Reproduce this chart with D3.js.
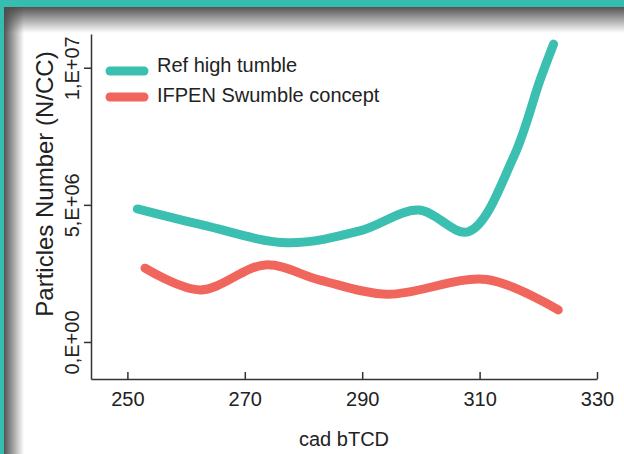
<!DOCTYPE html>
<html>
<head>
<meta charset="utf-8">
<script src="https://cdn.jsdelivr.net/npm/d3@7"></script>
<style>
  html, body { margin: 0; padding: 0; background: #fff; }
  svg { display: block; font-family: "Liberation Sans", Arial, Helvetica, sans-serif; }
</style>
</head>
<body>
<svg></svg>
<script>
// Set up the page.
var width = 624,
    height = 454;

var svg = d3.select("svg")
    .attr("width", width)
    .attr("height", height);

// Data (particles per cc, by crank angle bTCD).
var cadRef   = [251.7, 262.9, 277.2, 289.6, 299.6, 308.1, 315.8, 320.3, 322.6];
var refHigh  = [4.85e6, 4.26e6, 3.62e6, 4.05e6, 4.81e6, 4.02e6, 6.75e6, 9.55e6, 10.86e6];
var cadIfpen = [253.0, 262.4, 273.5, 282.8, 294.2, 311.2, 323.4];
var ifpen    = [2.69e6, 1.90e6, 2.81e6, 2.26e6, 1.74e6, 2.28e6, 1.17e6];

var xTicks = [250, 270, 290, 310, 330];
var yTicks = [0, 5e6, 1e7];
var yTickLabels = ["0,E+00", "5,E+06", "1,E+07"];
var seriesNames = ["Ref high tumble", "IFPEN Swumble concept"];
var colors = ["#3bbfb0", "#f1665c"];

// Frame: teal border with a soft grey shadow on top and left.
var defs = svg.append("defs");
var gTop = defs.append("linearGradient").attr("id", "shTop")
    .attr("x1", 0).attr("y1", 0).attr("x2", 0).attr("y2", 1);
gTop.append("stop").attr("offset", 0).attr("stop-color", "#4a4a4a").attr("stop-opacity", 0.95);
gTop.append("stop").attr("offset", 1).attr("stop-color", "#4a4a4a").attr("stop-opacity", 0);
var gLeft = defs.append("linearGradient").attr("id", "shLeft")
    .attr("x1", 0).attr("y1", 0).attr("x2", 1).attr("y2", 0);
gLeft.append("stop").attr("offset", 0).attr("stop-color", "#4a4a4a").attr("stop-opacity", 0.95);
gLeft.append("stop").attr("offset", 1).attr("stop-color", "#4a4a4a").attr("stop-opacity", 0);

svg.append("rect").attr("x", 4).attr("y", 7).attr("width", width - 4).attr("height", 26)
    .attr("fill", "url(#shTop)");
svg.append("rect").attr("x", 4).attr("y", 7).attr("width", 20).attr("height", height - 7)
    .attr("fill", "url(#shLeft)");
svg.append("rect").attr("x", 0).attr("y", 0).attr("width", width).attr("height", 7)
    .attr("fill", "#37bdb0");
svg.append("rect").attr("x", 0).attr("y", 0).attr("width", 4).attr("height", height)
    .attr("fill", "#37bdb0");

// Scales.
var x = d3.scaleLinear().domain([243.8, 330]).range([91, 597]);
var y = d3.scaleLinear().domain([0, 1e7]).range([342, 67.7]);

// Axes.
var xAxis = svg.append("g")
    .attr("transform", "translate(0,379)")
    .call(d3.axisTop(x).tickValues(xTicks).tickSize(7).tickSizeOuter(0).tickFormat(d3.format("d")));
xAxis.selectAll("text").remove();
xAxis.selectAll(".tick").append("text")
    .attr("y", 27)
    .attr("text-anchor", "middle")
    .attr("fill", "#222")
    .style("font-size", "20px")
    .text(function(d) { return d; });

var yAxis = svg.append("g")
    .attr("transform", "translate(91,0)")
    .call(d3.axisLeft(y.copy().domain([-1.35e6, 11.23e6]).range([379, 34]))
      .tickValues(yTicks).tickSize(7).tickSizeOuter(0).tickFormat(function(d, i) { return yTickLabels[i]; }));
yAxis.selectAll(".tick text")
    .attr("x", null).attr("dy", null)
    .attr("transform", "translate(-12,0) rotate(-90)")
    .attr("text-anchor", "middle")
    .attr("fill", "#222")
    .style("font-size", "20px");

svg.selectAll(".domain, .tick line").attr("stroke", "#333").attr("stroke-width", 1.5);
svg.selectAll("g").attr("font-family", null).attr("font-size", null);

// Axis titles.
svg.append("text")
    .attr("x", 344).attr("y", 446)
    .attr("text-anchor", "middle")
    .attr("fill", "#222")
    .style("font-size", "20px")
    .text("cad bTCD");

svg.append("text")
    .attr("transform", "translate(53,184) rotate(-90)")
    .attr("text-anchor", "middle")
    .attr("fill", "#222")
    .style("font-size", "24px")
    .text("Particles Number (N/CC)");

// Lines.
var line = d3.line()
    .x(function(d) { return x(d[0]); })
    .y(function(d) { return y(d[1]); })
    .curve(d3.curveCatmullRom.alpha(0.5));

var series = [d3.zip(cadRef, refHigh), d3.zip(cadIfpen, ifpen)];

svg.selectAll("path.series")
    .data(series)
  .enter().append("path")
    .attr("class", "series")
    .attr("d", line)
    .attr("fill", "none")
    .attr("stroke", function(d, i) { return colors[i]; })
    .attr("stroke-width", 9)
    .attr("stroke-linecap", "round")
    .attr("stroke-linejoin", "round");

// Legend.
var legend = svg.selectAll("g.legend")
    .data(seriesNames)
  .enter().append("g")
    .attr("class", "legend")
    .attr("transform", function(d, i) { return "translate(0," + (i === 0 ? 71 : 97) + ")"; });

legend.append("line")
    .attr("x1", 110).attr("x2", 144)
    .attr("stroke", function(d, i) { return colors[i]; })
    .attr("stroke-width", 9)
    .attr("stroke-linecap", "round");

legend.append("text")
    .attr("x", 157)
    .attr("y", function(d, i) { return i === 0 ? 1 : 5; })
    .attr("fill", "#222")
    .style("font-size", "20px")
    .text(function(d) { return d; });
</script>
</body>
</html>
